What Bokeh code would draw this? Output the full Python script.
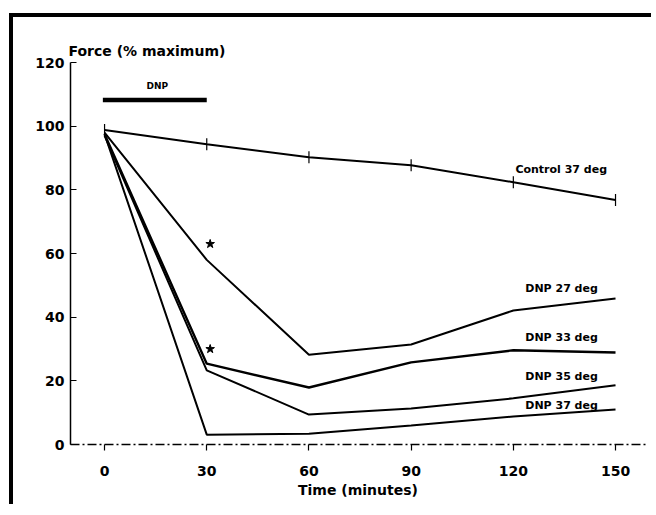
import numpy as np
from bokeh.plotting import figure
from bokeh.models import Range1d, FixedTicker, Title
from bokeh.core.properties import value
from bokeh.embed import file_html
from bokeh.resources import INLINE

time_min = [0, 30, 60, 90, 120, 150]
control_37 = [98.8, 94.3, 90.2, 87.7, 82.4, 76.8]
dnp_27 = [98.0, 58.0, 28.2, 31.4, 42.1, 45.9]
dnp_33 = [97.5, 25.4, 17.9, 25.8, 29.6, 28.9]
dnp_35 = [97.0, 23.3, 9.4, 11.3, 14.5, 18.6]
dnp_37 = [97.5, 3.1, 3.4, 6.0, 8.8, 11.0]

series_labels = ["Control 37 deg", "DNP 27 deg", "DNP 33 deg", "DNP 35 deg", "DNP 37 deg"]
label_x = [120.6, 123.5, 123.5, 123.5, 123.5]
label_y = [86.5, 49.0, 33.7, 21.4, 12.3]

star_x = [31, 31]
star_y = [63, 30]

dnp_bar_x = [-0.5, 30]
dnp_bar_y = [108.2, 108.2]
dnp_label = "DNP"

x_ticks = [0, 30, 60, 90, 120, 150]
y_ticks = [0, 20, 40, 60, 80, 100, 120]

FONT = "DejaVu Sans"

p = figure(width=642, height=491, output_backend="svg", toolbar_location=None,
           x_range=Range1d(-10, 158.8), y_range=Range1d(0, 120),
           min_border_left=57, min_border_right=10, min_border_top=45, min_border_bottom=64,
           styles={"border-left": "4px solid black", "border-top": "4px solid black",
                   "margin-top": "13px", "margin-left": "9px"})
p.outline_line_color = None
p.grid.visible = False
p.background_fill_color = "white"

# axes
p.xaxis.ticker = FixedTicker(ticks=x_ticks)
p.yaxis.ticker = FixedTicker(ticks=y_ticks)
p.xaxis.axis_line_dash = "9 3 2 3"
p.xaxis.axis_line_width = 1.5
p.yaxis.axis_line_width = 1.5
p.xaxis.major_tick_in = 0
p.xaxis.major_tick_out = 6
p.yaxis.major_tick_in = 6
p.yaxis.major_tick_out = 0
p.axis.minor_tick_line_color = None
p.axis.major_tick_line_width = 1.2
p.axis.major_label_text_font = FONT
p.axis.major_label_text_font_style = "bold"
p.axis.major_label_text_font_size = "14px"
p.axis.major_label_text_color = "black"
p.xaxis.major_label_standoff = 15
p.yaxis.major_label_standoff = 6
p.xaxis.axis_label = "Time (minutes)"
p.xaxis.axis_label_text_font = FONT
p.xaxis.axis_label_text_font_style = "bold"
p.xaxis.axis_label_text_font_size = "14px"
p.xaxis.axis_label_text_color = "black"
p.xaxis.axis_label_standoff = 3

t = Title(text="Force (% maximum)", align="left", offset=-2, standoff=7,
          text_font=FONT, text_font_style="bold", text_font_size="14px",
          text_color="black")
p.add_layout(t, "above")

# lines
for ys, w in [(control_37, 2), (dnp_27, 2), (dnp_33, 2.4), (dnp_35, 2), (dnp_37, 2)]:
    p.line(time_min, ys, line_color="black", line_width=w)

p.scatter(time_min, control_37, marker="dash", angle=np.pi / 2, size=12,
          line_color="black", line_width=1.2)

# DNP bar
p.line(dnp_bar_x, dnp_bar_y, line_color="black", line_width=4.5)
p.text(x=[15.5], y=[112.5], text=[dnp_label], text_font=value(FONT), text_font_style="bold",
       text_font_size="9px", text_align="center", text_baseline="middle")

# asterisks
p.scatter(star_x, star_y, marker="star", size=9, fill_color="black", line_color="black")

# series labels
p.text(x=label_x, y=label_y, text=series_labels, text_font=value(FONT), text_font_style="bold",
       text_font_size="11px", text_align="left", text_baseline="middle")

open("out.html", "w").write(file_html(p, INLINE))
